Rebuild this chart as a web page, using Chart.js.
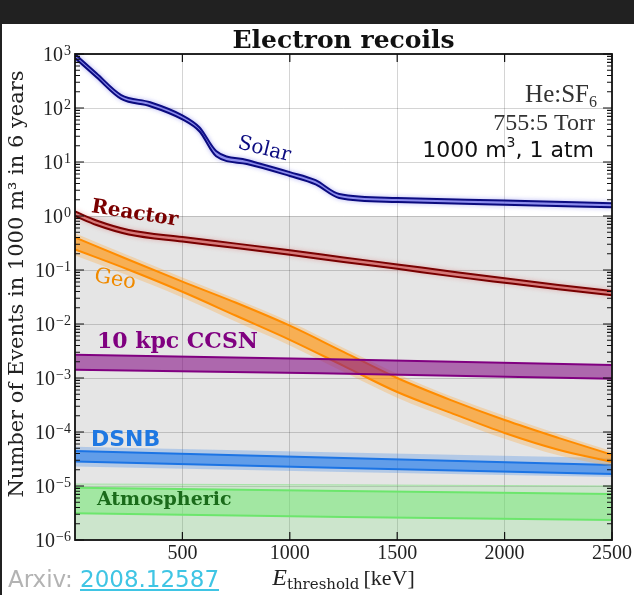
<!DOCTYPE html>
<html>
<head>
<meta charset="utf-8">
<script src="https://cdn.jsdelivr.net/npm/chart.js@4.4.1/dist/chart.umd.min.js"></script>
<style>
  html, body { margin: 0; padding: 0; background: #212121; width: 634px; height: 595px; overflow: hidden; }
  #wrap { position: absolute; left: 2px; top: 24px; width: 632px; height: 571px; background: #fff; }
  #chart { position: absolute; left: 0; top: 0; }
  #arxiv { position: absolute; left: 6px; top: 542px; font: 23px/26px "DejaVu Sans", sans-serif; color: #b3b3b3; white-space: nowrap; }
  #arxiv a { color: #3fc5e4; text-decoration: underline; }
</style>
</head>
<body>
<div id="wrap">
  <canvas id="chart" width="632" height="571"></canvas>
  <div id="arxiv">Arxiv: <a href="#">2008.12587</a></div>
</div>
<script>
// Axis ticks
const xTicks = [500, 1000, 1500, 2000, 2500];
const yTicks = [1e-6, 1e-5, 1e-4, 1e-3, 1e-2, 1e-1, 1e0, 1e1, 1e2, 1e3];

// Solar
const solarE  = [0, 100, 215, 350, 500, 580, 657, 800, 1000, 1120, 1230, 1500, 2000, 2500];
const solarHi = [1000, 440, 174, 128, 73, 43.6, 16, 10.9, 6.5, 4.6, 2.56, 2.16, 1.93, 1.72];
const solarLo = [842, 370, 147, 108, 61.5, 36.7, 12.8, 9.2, 5.5, 3.85, 2.16, 1.82, 1.62, 1.45];

// Reactor
const reactorE  = [0, 100, 250, 500, 750, 1000, 1250, 1500, 1750, 2000, 2250, 2500];
const reactorHi = [1.21, 0.825, 0.55, 0.407, 0.308, 0.231, 0.171, 0.127, 0.094, 0.070, 0.053, 0.041];
const reactorLo = [1.0, 0.68, 0.455, 0.336, 0.255, 0.191, 0.141, 0.105, 0.077, 0.058, 0.044, 0.034];

// Geo
const geoE     = [0, 250, 500, 750, 1000, 1250, 1500, 1750, 2000, 2250, 2500];
const geoHi    = [0.40, 0.155, 0.061, 0.0247, 0.0093, 0.00305, 0.0010, 3.9e-4, 1.67e-4, 7.8e-5, 3.8e-5];
const geoLo    = [0.24, 0.101, 0.0395, 0.0142, 0.0051, 0.00168, 5.5e-4, 2.26e-4, 9.6e-5, 4.7e-5, 2.8e-5];
const geoOutHi = [0.48, 0.185, 0.073, 0.029, 0.011, 0.0036, 0.0012, 4.6e-4, 2.0e-4, 9.2e-5, 4.4e-5];
const geoOutLo = [0.185, 0.078, 0.031, 0.011, 0.0040, 0.0013, 4.3e-4, 1.75e-4, 7.5e-5, 3.7e-5, 2.3e-5];

// 10 kpc CCSN
const ccsnE  = [0, 1140, 2500];
const ccsnHi = [2.69e-3, 2.26e-3, 1.75e-3];
const ccsnLo = [1.42e-3, 1.22e-3, 9.7e-4];

// DSNB
const dsnbE     = [0, 1250, 2500];
const dsnbHi    = [4.47e-5, 3.31e-5, 2.46e-5];
const dsnbLo    = [2.83e-5, 2.16e-5, 1.67e-5];
const dsnbOutHi = [5.36e-5, 4.19e-5, 3.31e-5];
const dsnbOutLo = [2.29e-5, 1.82e-5, 1.47e-5];

// Atmospheric
const atmE     = [0, 1250, 2500];
const atmHi    = [9.3e-6, 8.1e-6, 7.1e-6];
const atmLo    = [3.13e-6, 2.67e-6, 2.35e-6];
const atmOutHi = [1.09e-5, 1.05e-5, 1.0e-5];
const atmOutLo = [5e-7, 5e-7, 5e-7];

// Labels on the plot
const labels = [
    { text: 'Solar', x: 881, y: 17, angle: 14, align: 'center', color: '#0c0c80', font: '20px "DejaVu Serif"' },
    { text: 'Reactor', x: 278, y: 1.1, angle: 9, align: 'center', color: '#7a0000', font: 'bold 20px "DejaVu Serif"' },
    { text: 'Geo', x: 186, y: 0.066, angle: 10, align: 'center', color: '#f08a00', font: '21px "DejaVu Serif"' },
    { text: '10 kpc CCSN', x: 102, y: 4.5e-3, angle: 0, align: 'left', color: '#800080', font: 'bold 22px "DejaVu Serif"' },
    { text: 'DSNB', x: 74, y: 7.1e-5, angle: 0, align: 'left', color: '#1f78e2', font: 'bold 22px "DejaVu Sans"' },
    { text: 'Atmospheric', x: 102, y: 5.5e-6, angle: 0, align: 'left', color: '#1a6b1a', font: 'bold 19px "DejaVu Serif"' }
];

function pts(xs, ys) {
    return xs.map((x, i) => ({ x: x, y: ys[i] }));
}

// Two lines with the area between them filled
function band(xs, hi, lo, o) {
    const common = {
        borderColor: o.line,
        borderWidth: o.width,
        pointRadius: 0,
        cubicInterpolationMode: o.smooth ? 'monotone' : 'default',
        glow: o.glow
    };
    return [
        Object.assign({ data: pts(xs, hi), fill: '+1', backgroundColor: o.fill, order: o.order + 1 }, common),
        Object.assign({ data: pts(xs, lo), fill: false, order: o.order }, common)
    ];
}

const datasets = [].concat(
    band(solarE, solarHi, solarLo, { line: '#0a0a7e', fill: 'rgba(100,100,230,0.6)', width: 2, order: 0, smooth: true, glow: 'rgba(80,80,230,0.55)' }),
    band(reactorE, reactorHi, reactorLo, { line: '#780000', fill: 'rgba(205,70,70,0.6)', width: 2, order: 2, smooth: true, glow: 'rgba(220,80,80,0.5)' }),
    band(ccsnE, ccsnHi, ccsnLo, { line: '#800080', fill: 'rgba(135,20,135,0.6)', width: 2, order: 4 }),
    band(geoE, geoHi, geoLo, { line: '#ff8c00', fill: 'rgba(255,145,10,0.55)', width: 2, order: 6, smooth: true }),
    band(geoE, geoOutHi, geoOutLo, { line: 'rgba(0,0,0,0)', fill: 'rgba(255,165,50,0.3)', width: 0, order: 8, smooth: true }),
    band(dsnbE, dsnbHi, dsnbLo, { line: '#1c74e4', fill: 'rgba(30,120,235,0.55)', width: 2, order: 10 }),
    band(dsnbE, dsnbOutHi, dsnbOutLo, { line: 'rgba(0,0,0,0)', fill: 'rgba(30,120,235,0.25)', width: 0, order: 12 }),
    band(atmE, atmHi, atmLo, { line: '#6ce66c', fill: 'rgba(110,232,110,0.45)', width: 2, order: 14 }),
    band(atmE, atmOutHi, atmOutLo, { line: 'rgba(120,225,120,0.5)', fill: 'rgba(130,230,130,0.25)', width: 1, order: 16 })
);

// Gray region below 1 event
const backgroundPlugin = {
    id: 'background',
    beforeDraw(chart) {
        const { ctx, chartArea: a, scales: { y } } = chart;
        const top = y.getPixelForValue(1);
        ctx.save();
        ctx.fillStyle = '#e5e5e5';
        ctx.fillRect(a.left, top, a.right - a.left, a.bottom - top);
        ctx.restore();
    }
};

// Soft halo round some lines
const glowPlugin = {
    id: 'glow',
    beforeDatasetDraw(chart, args) {
        const ds = chart.data.datasets[args.index];
        chart.ctx.save();
        if (ds.glow) {
            chart.ctx.shadowColor = ds.glow;
            chart.ctx.shadowBlur = 4;
        }
    },
    afterDatasetDraw(chart) {
        chart.ctx.restore();
    }
};

// Text labels, the gas box and the axis titles
const textPlugin = {
    id: 'texts',
    afterDatasetsDraw(chart) {
        const { ctx, chartArea: a, scales: { x, y } } = chart;
        ctx.save();
        labels.forEach(l => {
            ctx.save();
            ctx.translate(x.getPixelForValue(l.x), y.getPixelForValue(l.y));
            ctx.rotate(l.angle * Math.PI / 180);
            ctx.font = l.font;
            ctx.fillStyle = l.color;
            ctx.textAlign = l.align;
            ctx.textBaseline = 'middle';
            ctx.fillText(l.text, 0, 0);
            ctx.restore();
        });

        // He:SF6
        ctx.textBaseline = 'alphabetic';
        ctx.textAlign = 'left';
        ctx.fillStyle = '#333';
        let r = a.right - 15;
        ctx.font = '16px "Liberation Serif"';
        const w6 = ctx.measureText('6').width;
        ctx.font = '25px "Liberation Serif"';
        const wHe = ctx.measureText('He:SF').width;
        ctx.fillText('He:SF', r - w6 - wHe, 78);
        ctx.font = '16px "Liberation Serif"';
        ctx.fillText('6', r - w6, 83);

        ctx.textAlign = 'right';
        ctx.font = '24px "Liberation Serif"';
        ctx.fillText('755:5 Torr', a.right - 17, 106);

        // 1000 m^3, 1 atm
        ctx.fillStyle = '#111';
        ctx.textAlign = 'left';
        ctx.font = '22px "DejaVu Sans"';
        const wA = ctx.measureText('1000 m').width;
        const wB = ctx.measureText(', 1 atm').width;
        ctx.font = '14px "DejaVu Sans"';
        const w3 = ctx.measureText('3').width;
        let x0 = a.right - 18 - wA - w3 - wB;
        ctx.font = '22px "DejaVu Sans"';
        ctx.fillText('1000 m', x0, 133);
        ctx.fillText(', 1 atm', x0 + wA + w3, 133);
        ctx.font = '14px "DejaVu Sans"';
        ctx.fillText('3', x0 + wA, 123);

        // x axis title: E_threshold [keV]
        ctx.fillStyle = '#222';
        ctx.font = 'italic 24px "Liberation Serif"';
        const wE = ctx.measureText('E').width;
        ctx.font = '15px "DejaVu Serif"';
        const wSub = ctx.measureText('threshold').width;
        ctx.font = '22px "Liberation Serif"';
        const wK = ctx.measureText('[keV]').width;
        const total = wE + wSub + 4 + wK;
        x0 = (a.left + a.right) / 2 - total / 2;
        ctx.font = 'italic 24px "Liberation Serif"';
        ctx.fillText('E', x0, 561);
        ctx.font = '15px "DejaVu Serif"';
        ctx.fillText('threshold', x0 + wE, 565);
        ctx.font = '22px "Liberation Serif"';
        ctx.fillText('[keV]', x0 + wE + wSub + 4, 561);

        // y axis title
        ctx.save();
        ctx.translate(21, 260);
        ctx.rotate(-Math.PI / 2);
        ctx.textAlign = 'center';
        ctx.font = '21px "DejaVu Serif"';
        ctx.fillText('Number of Events in 1000 m\u00b3 in 6 years', 0, 0);
        ctx.restore();
        ctx.restore();
    }
};

// Frame, inward ticks and the y tick labels with powers of ten
const framePlugin = {
    id: 'frame',
    afterDraw(chart) {
        const { ctx, chartArea: a, scales: { x, y } } = chart;
        ctx.save();
        ctx.strokeStyle = '#111';
        ctx.lineWidth = 1.2;
        ctx.beginPath();
        xTicks.forEach(v => {
            const px = x.getPixelForValue(v);
            ctx.moveTo(px, a.bottom); ctx.lineTo(px, a.bottom - 8);
            ctx.moveTo(px, a.top); ctx.lineTo(px, a.top + 8);
        });
        yTicks.forEach((v, i) => {
            const py = y.getPixelForValue(v);
            ctx.moveTo(a.left, py); ctx.lineTo(a.left + 9, py);
            ctx.moveTo(a.right, py); ctx.lineTo(a.right - 9, py);
            if (i < yTicks.length - 1) {
                for (let m = 2; m <= 9; m++) {
                    const pm = y.getPixelForValue(v * m);
                    ctx.moveTo(a.left, pm); ctx.lineTo(a.left + 5, pm);
                    ctx.moveTo(a.right, pm); ctx.lineTo(a.right - 5, pm);
                }
            }
        });
        ctx.stroke();

        ctx.lineWidth = 1.8;
        ctx.strokeRect(a.left, a.top, a.right - a.left, a.bottom - a.top);

        ctx.fillStyle = '#222';
        ctx.textBaseline = 'alphabetic';
        ctx.textAlign = 'left';
        yTicks.forEach(v => {
            const py = y.getPixelForValue(v);
            const p = Math.round(Math.log10(v));
            const sup = p < 0 ? '\u2212' + (-p) : String(p);
            ctx.font = '20px "Liberation Serif"';
            const wb = ctx.measureText('10').width;
            ctx.font = '14px "Liberation Serif"';
            const ws = ctx.measureText(sup).width;
            const xs = a.left - 4 - ws;
            ctx.font = '20px "Liberation Serif"';
            ctx.fillText('10', xs - wb - 1, py + 7);
            ctx.font = '14px "Liberation Serif"';
            ctx.fillText(sup, xs, py + 1);
        });
        ctx.restore();
    }
};

const ctx = document.getElementById('chart').getContext('2d');
new Chart(ctx, {
    type: 'line',
    data: { datasets: datasets },
    options: {
        responsive: false,
        animation: false,
        devicePixelRatio: 1,
        layout: { padding: { left: 0, right: 20, top: 0, bottom: 0 } },
        plugins: {
            legend: { display: false },
            tooltip: { enabled: false },
            title: {
                display: true,
                text: 'Electron recoils',
                fullSize: false,
                color: '#111',
                font: { family: 'DejaVu Serif', size: 25, weight: 'bold', lineHeight: 1 },
                padding: { top: 5, bottom: 0 }
            }
        },
        scales: {
            x: {
                type: 'linear',
                min: 0,
                max: 2500,
                afterBuildTicks: s => { s.ticks = xTicks.map(v => ({ value: v })); },
                afterFit: s => { s.height = 55; },
                border: { display: false },
                grid: { color: 'rgba(0,0,0,0.17)', lineWidth: 1, drawTicks: false },
                ticks: {
                    padding: 2,
                    maxRotation: 0,
                    color: '#222',
                    font: { family: 'Liberation Serif', size: 20 },
                    callback: v => String(v)
                }
            },
            y: {
                type: 'logarithmic',
                min: 1e-6,
                max: 1e3,
                afterBuildTicks: s => { s.ticks = yTicks.map(v => ({ value: v })); },
                afterFit: s => { s.width = 73; },
                border: { display: false },
                grid: { color: 'rgba(0,0,0,0.17)', lineWidth: 1, drawTicks: false },
                ticks: { display: false }
            }
        }
    },
    plugins: [backgroundPlugin, glowPlugin, textPlugin, framePlugin]
});
</script>
</body>
</html>
